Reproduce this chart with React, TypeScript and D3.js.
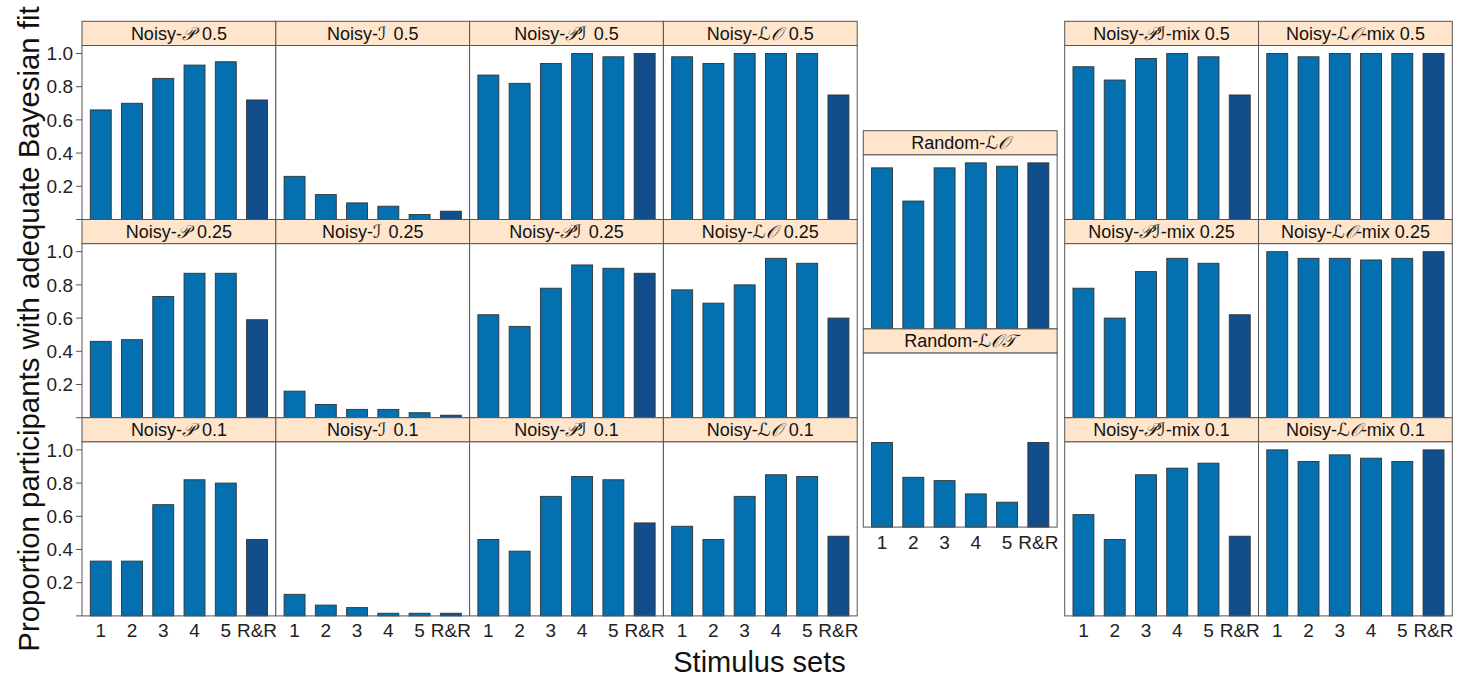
import React from "react";
import * as d3 from "d3";

// ---------- data ----------
const stimulusSets = ["1", "2", "3", "4", "5", "R&R"];
const yTickValues = [0, 0.2, 0.4, 0.6, 0.8, 1.0];

const noisyP_05 = [0.66, 0.70, 0.85, 0.93, 0.95, 0.72];
const noisyI_05 = [0.26, 0.15, 0.10, 0.08, 0.03, 0.05];
const noisyPI_05 = [0.87, 0.82, 0.94, 1.0, 0.98, 1.0];
const noisyLO_05 = [0.98, 0.94, 1.0, 1.0, 1.0, 0.75];

const noisyP_025 = [0.46, 0.47, 0.73, 0.87, 0.87, 0.59];
const noisyI_025 = [0.16, 0.08, 0.05, 0.05, 0.03, 0.015];
const noisyPI_025 = [0.62, 0.55, 0.78, 0.92, 0.90, 0.87];
const noisyLO_025 = [0.77, 0.69, 0.80, 0.96, 0.93, 0.60];

const noisyP_01 = [0.33, 0.33, 0.67, 0.82, 0.80, 0.46];
const noisyI_01 = [0.13, 0.065, 0.05, 0.016, 0.016, 0.016];
const noisyPI_01 = [0.46, 0.39, 0.72, 0.84, 0.82, 0.56];
const noisyLO_01 = [0.54, 0.46, 0.72, 0.85, 0.84, 0.48];

const randomLO = [0.97, 0.77, 0.97, 1.0, 0.98, 1.0];
const randomLOT = [0.51, 0.30, 0.28, 0.20, 0.15, 0.51];

const noisyPImix_05 = [0.92, 0.84, 0.97, 1.0, 0.98, 0.75];
const noisyLOmix_05 = [1.0, 0.98, 1.0, 1.0, 1.0, 1.0];
const noisyPImix_025 = [0.78, 0.60, 0.88, 0.96, 0.93, 0.62];
const noisyLOmix_025 = [1.0, 0.96, 0.96, 0.95, 0.96, 1.0];
const noisyPImix_01 = [0.61, 0.46, 0.85, 0.89, 0.92, 0.48];
const noisyLOmix_01 = [1.0, 0.93, 0.97, 0.95, 0.93, 1.0];

type Panel = { block: "left" | "mid" | "right"; row: number; col: number; pre: string; math: string; post: string; values: number[] };

const panels: Panel[] = [
  { block: "left", row: 0, col: 0, pre: "Noisy-", math: "𝒫", post: " 0.5", values: noisyP_05 },
  { block: "left", row: 0, col: 1, pre: "Noisy-", math: "ℐ", post: " 0.5", values: noisyI_05 },
  { block: "left", row: 0, col: 2, pre: "Noisy-", math: "𝒫ℐ", post: " 0.5", values: noisyPI_05 },
  { block: "left", row: 0, col: 3, pre: "Noisy-", math: "ℒ𝒪", post: " 0.5", values: noisyLO_05 },
  { block: "left", row: 1, col: 0, pre: "Noisy-", math: "𝒫", post: " 0.25", values: noisyP_025 },
  { block: "left", row: 1, col: 1, pre: "Noisy-", math: "ℐ", post: " 0.25", values: noisyI_025 },
  { block: "left", row: 1, col: 2, pre: "Noisy-", math: "𝒫ℐ", post: " 0.25", values: noisyPI_025 },
  { block: "left", row: 1, col: 3, pre: "Noisy-", math: "ℒ𝒪", post: " 0.25", values: noisyLO_025 },
  { block: "left", row: 2, col: 0, pre: "Noisy-", math: "𝒫", post: " 0.1", values: noisyP_01 },
  { block: "left", row: 2, col: 1, pre: "Noisy-", math: "ℐ", post: " 0.1", values: noisyI_01 },
  { block: "left", row: 2, col: 2, pre: "Noisy-", math: "𝒫ℐ", post: " 0.1", values: noisyPI_01 },
  { block: "left", row: 2, col: 3, pre: "Noisy-", math: "ℒ𝒪", post: " 0.1", values: noisyLO_01 },
  { block: "mid", row: 0, col: 0, pre: "Random-", math: "ℒ𝒪", post: "", values: randomLO },
  { block: "mid", row: 1, col: 0, pre: "Random-", math: "ℒ𝒪𝒯", post: "", values: randomLOT },
  { block: "right", row: 0, col: 0, pre: "Noisy-", math: "𝒫ℐ", post: "-mix 0.5", values: noisyPImix_05 },
  { block: "right", row: 0, col: 1, pre: "Noisy-", math: "ℒ𝒪", post: "-mix 0.5", values: noisyLOmix_05 },
  { block: "right", row: 1, col: 0, pre: "Noisy-", math: "𝒫ℐ", post: "-mix 0.25", values: noisyPImix_025 },
  { block: "right", row: 1, col: 1, pre: "Noisy-", math: "ℒ𝒪", post: "-mix 0.25", values: noisyLOmix_025 },
  { block: "right", row: 2, col: 0, pre: "Noisy-", math: "𝒫ℐ", post: "-mix 0.1", values: noisyPImix_01 },
  { block: "right", row: 2, col: 1, pre: "Noisy-", math: "ℒ𝒪", post: "-mix 0.1", values: noisyLOmix_01 },
];

// ---------- layout ----------
const PW = 193.8;
const STRIP = 24.2;
const PLOT = 174.0;
const ROW = STRIP + PLOT;
const blocks = {
  left: { x: 82, y: 21.3, rows: 3 },
  mid: { x: 863.3, y: 130.7, rows: 2 },
  right: { x: 1064.7, y: 21.3, rows: 3 },
};

const FONT = "'Liberation Sans', Arial, Helvetica, sans-serif";
const MATH_FONT = "'DejaVu Serif', 'DejaVu Sans', serif";
const BAR = "#0570b0";
const BAR_DARK = "#114e8b";
const STRIP_FILL = "#ffe5cc";
const FRAME = "#555555";

const x = d3.scalePoint<string>().domain(stimulusSets).range([0, PW]).padding(0.6);
const y = d3.scaleLinear().domain([0, 1.048]).range([PLOT, 0]);
const barW = x.step() * 0.67;

export default function App() {
  return (
    <svg width={1471} height={681} style={{ position: "absolute", left: 0, top: 0, background: "#fff" }} fontFamily={FONT}>
      {panels.map((p, i) => {
        const b = blocks[p.block];
        const gx = b.x + p.col * PW;
        const gy = b.y + p.row * ROW;
        const isBottom = p.row === b.rows - 1;
        const hasYAxis = p.block === "left" && p.col === 0;
        return (
          <g key={i} transform={`translate(${gx},${gy})`}>
            <rect x={0} y={0} width={PW} height={STRIP} fill={STRIP_FILL} stroke={FRAME} strokeWidth={1} />
            <text x={PW / 2} y={STRIP / 2 + 6.5} textAnchor="middle" fontSize={18} fill="#111">
              {p.pre}
              <tspan fontFamily={MATH_FONT} fontStyle="italic">{p.math}</tspan>
              <tspan dx={p.post.startsWith(" ") ? 2 : 0}>{p.post}</tspan>
            </text>
            <g transform={`translate(0,${STRIP})`}>
              <rect x={0} y={0} width={PW} height={PLOT} fill="#fff" />
              {p.values.map((v, j) => (
                <rect
                  key={j}
                  x={(x(stimulusSets[j]) as number) - barW / 2}
                  y={y(v)}
                  width={barW}
                  height={y(0) - y(v)}
                  fill={j === 5 ? BAR_DARK : BAR}
                  stroke="#333"
                  strokeWidth={0.9}
                />
              ))}
              <rect x={0} y={0} width={PW} height={PLOT} fill="none" stroke={FRAME} strokeWidth={1} />
              {hasYAxis &&
                yTickValues.map((t) => (
                  <g key={t} transform={`translate(0,${y(t)})`}>
                    <line x1={-6} x2={0} stroke={FRAME} strokeWidth={1} />
                    {t > 0 && (
                      <text x={-9} dy="0.35em" textAnchor="end" fontSize={19} fill="#222">
                        {d3.format(".1f")(t)}
                      </text>
                    )}
                  </g>
                ))}
              {isBottom &&
                stimulusSets.map((s) => (
                  <text key={s} x={x(s)} y={PLOT + 21.5} textAnchor="middle" fontSize={19} fill="#222">
                    {s}
                  </text>
                ))}
            </g>
          </g>
        );
      })}
      <text transform="translate(39,329) rotate(-90)" textAnchor="middle" fontSize={29.4} fill="#111">
        Proportion participants with adequate Bayesian fit
      </text>
      <text x={759.5} y={671.5} textAnchor="middle" fontSize={29} fill="#111">
        Stimulus sets
      </text>
    </svg>
  );
}
